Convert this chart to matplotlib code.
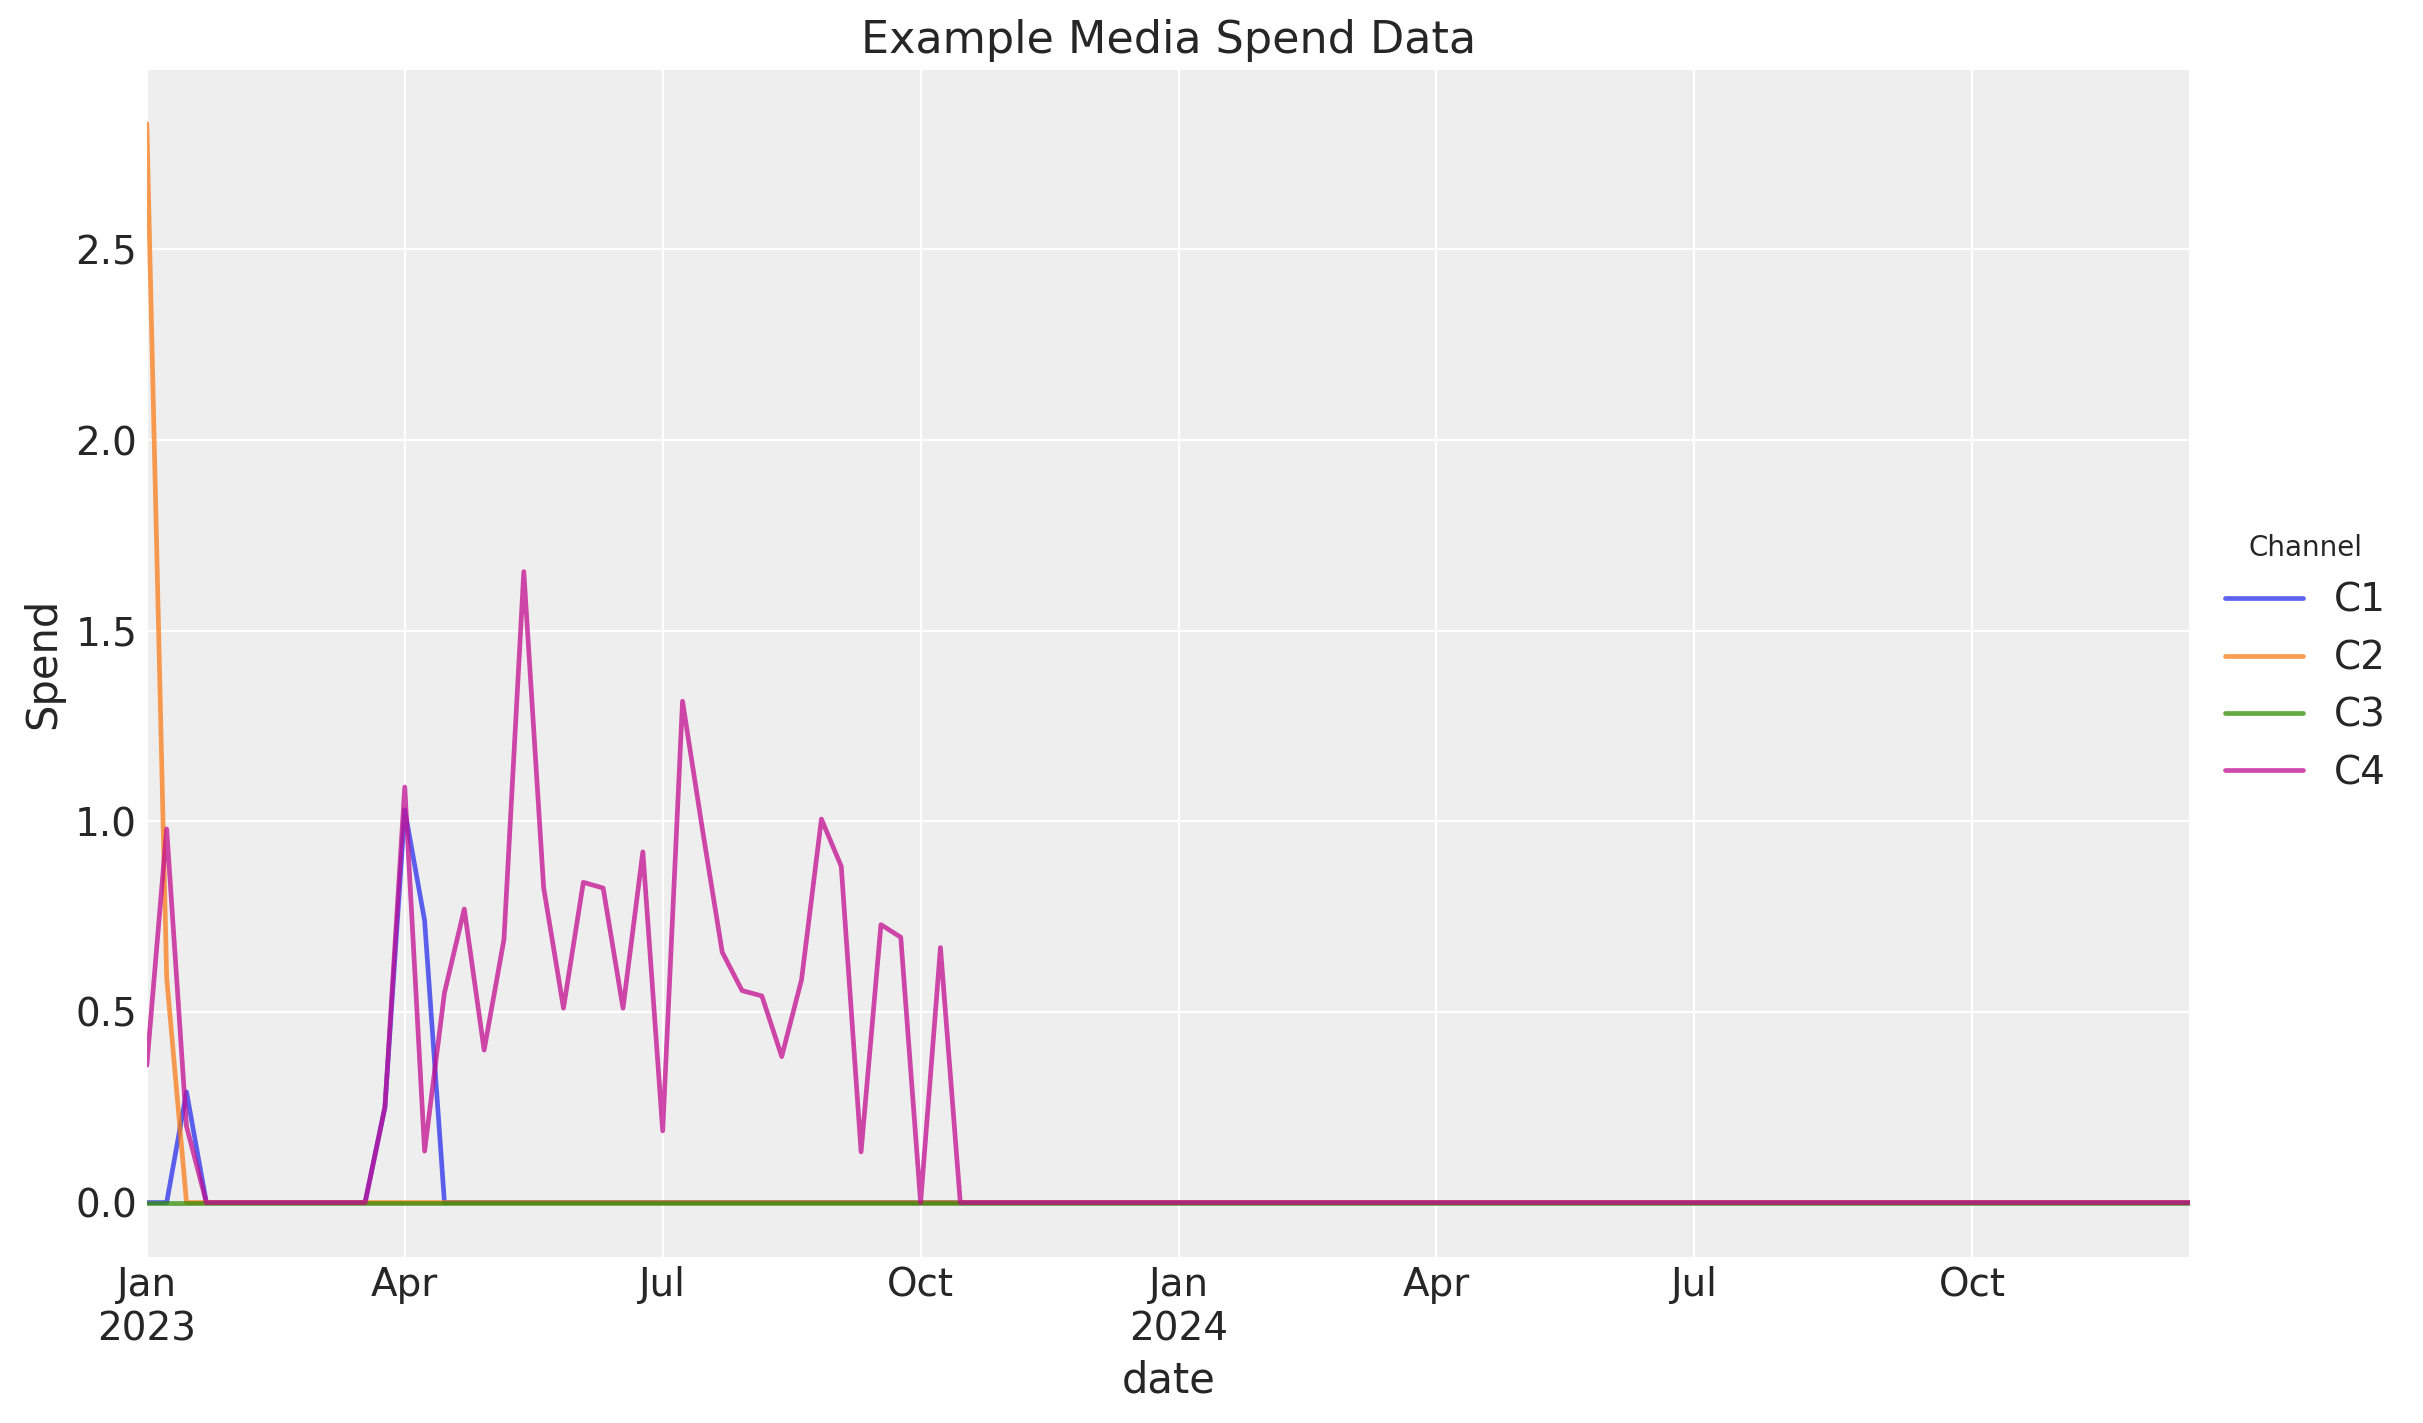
import matplotlib
matplotlib.use("Agg")
import matplotlib.pyplot as plt
import pandas as pd

# ---- data ----
dates = pd.date_range("2023-01-02", periods=104, freq="W-MON")
channels = ["C1", "C2", "C3", "C4"]

c1 = [0, 0, 0.29, 0, 0, 0, 0, 0, 0, 0, 0, 0, 0.25,
      1.03, 0.74, 0, 0, 0, 0, 0, 0, 0, 0, 0, 0, 0,
      0, 0, 0, 0, 0, 0, 0, 0, 0, 0, 0, 0, 0,
      0, 0, 0, 0, 0, 0, 0, 0, 0, 0, 0, 0, 0,
      0, 0, 0, 0, 0, 0, 0, 0, 0, 0, 0, 0, 0,
      0, 0, 0, 0, 0, 0, 0, 0, 0, 0, 0, 0, 0,
      0, 0, 0, 0, 0, 0, 0, 0, 0, 0, 0, 0, 0,
      0, 0, 0, 0, 0, 0, 0, 0, 0, 0, 0, 0, 0]
c2 = [2.83, 0.59, 0, 0, 0, 0, 0, 0, 0, 0, 0, 0, 0,
      0, 0, 0, 0, 0, 0, 0, 0, 0, 0, 0, 0, 0,
      0, 0, 0, 0, 0, 0, 0, 0, 0, 0, 0, 0, 0,
      0, 0, 0, 0, 0, 0, 0, 0, 0, 0, 0, 0, 0,
      0, 0, 0, 0, 0, 0, 0, 0, 0, 0, 0, 0, 0,
      0, 0, 0, 0, 0, 0, 0, 0, 0, 0, 0, 0, 0,
      0, 0, 0, 0, 0, 0, 0, 0, 0, 0, 0, 0, 0,
      0, 0, 0, 0, 0, 0, 0, 0, 0, 0, 0, 0, 0]
c3 = [0, 0, 0, 0, 0, 0, 0, 0, 0, 0, 0, 0, 0,
      0, 0, 0, 0, 0, 0, 0, 0, 0, 0, 0, 0, 0,
      0, 0, 0, 0, 0, 0, 0, 0, 0, 0, 0, 0, 0,
      0, 0, 0, 0, 0, 0, 0, 0, 0, 0, 0, 0, 0,
      0, 0, 0, 0, 0, 0, 0, 0, 0, 0, 0, 0, 0,
      0, 0, 0, 0, 0, 0, 0, 0, 0, 0, 0, 0, 0,
      0, 0, 0, 0, 0, 0, 0, 0, 0, 0, 0, 0, 0,
      0, 0, 0, 0, 0, 0, 0, 0, 0, 0, 0, 0, 0]
c4 = [0.36, 0.98, 0.20, 0, 0, 0, 0, 0, 0, 0, 0, 0, 0.25,
      1.09, 0.135, 0.55, 0.77, 0.40, 0.69, 1.655, 0.826, 0.51, 0.84, 0.825, 0.51, 0.92,
      0.188, 1.315, 0.98, 0.657, 0.556, 0.542, 0.383, 0.585, 1.006, 0.882, 0.133, 0.729, 0.696,
      0, 0.669, 0, 0, 0, 0, 0, 0, 0, 0, 0, 0, 0,
      0, 0, 0, 0, 0, 0, 0, 0, 0, 0, 0, 0, 0,
      0, 0, 0, 0, 0, 0, 0, 0, 0, 0, 0, 0, 0,
      0, 0, 0, 0, 0, 0, 0, 0, 0, 0, 0, 0, 0,
      0, 0, 0, 0, 0, 0, 0, 0, 0, 0, 0, 0, 0]

colors = ["#2a2eec", "#fa7c17", "#328c06", "#c10c90"]

# ---- style (arviz-darkgrid like) ----
plt.rcParams.update({
    "font.family": ["DejaVu Sans"],
    "font.size": 10,
    "text.color": "#262626",
    "axes.facecolor": "#eeeeee",
    "axes.edgecolor": "white",
    "axes.linewidth": 0,
    "axes.grid": True,
    "axes.axisbelow": True,
    "axes.labelcolor": "#262626",
    "axes.titlesize": 16,
    "axes.labelsize": 15,
    "axes.spines.left": False,
    "axes.spines.right": False,
    "axes.spines.top": False,
    "axes.spines.bottom": False,
    "grid.color": "white",
    "grid.linestyle": "-",
    "grid.linewidth": 0.8,
    "xtick.labelsize": 14,
    "ytick.labelsize": 14,
    "xtick.color": "#262626",
    "ytick.color": "#262626",
    "xtick.major.size": 0,
    "ytick.major.size": 0,
    "xtick.minor.size": 0,
    "ytick.minor.size": 0,
    "lines.linewidth": 1.7,
    "lines.solid_capstyle": "round",
})

df = pd.DataFrame({"C1": c1, "C2": c2, "C3": c3, "C4": c4},
                  index=pd.Index(dates, name="date"))
df.index.freq = "W-MON"

fig = plt.figure(figsize=(2423 / 200, 1423 / 200), dpi=200)
ax = fig.add_axes([0.0606, 0.117, 0.904 - 0.0606, 0.951 - 0.117])

df[channels].plot(ax=ax, color=colors, alpha=0.75, lw=1.7, legend=False)

ax.set_title("Example Media Spend Data")
ax.set_xlabel("date")
ax.set_ylabel("Spend")
ax.grid(True, which="major", color="white", lw=0.8)
ax.grid(False, which="minor")
ax.set_ylim(-0.1415, 2.9715)

leg = ax.legend(title="Channel", loc="center left", bbox_to_anchor=(1.0, 0.5),
                frameon=False, fontsize=14, title_fontsize=10)

fig.savefig("out.png", dpi=200)
